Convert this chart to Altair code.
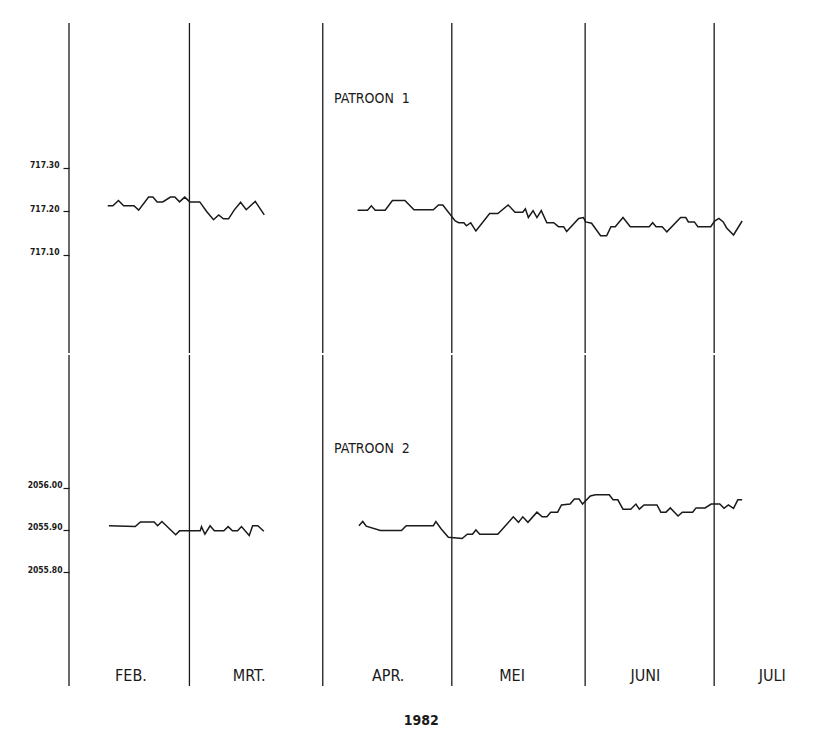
import altair as alt
import pandas as pd

# ---- data (day = days after 1 Feb 1982) ----
p1a_day = [9.0, 10.2, 11.5, 12.7, 15.1, 16.2, 18.5, 19.5, 20.5, 21.8, 23.6, 24.6, 25.7, 26.9,
           28.1, 30.4, 32.0, 33.6, 34.8, 35.9, 37.1, 38.4, 39.9, 41.2, 43.3, 45.4]
p1a_val = [717.212, 717.212, 717.224, 717.212, 717.212, 717.202, 717.232, 717.232, 717.221,
           717.221, 717.232, 717.232, 717.221, 717.232, 717.221, 717.221, 717.199, 717.180,
           717.191, 717.182, 717.182, 717.202, 717.220, 717.203, 717.222, 717.191]

p1b_day = [67.1, 69.4, 70.3, 71.2, 73.5, 75.2, 78.1, 80.2, 84.7, 85.9, 86.9, 89.8, 90.6, 91.8,
           92.4, 93.4, 94.6, 97.8, 99.7, 102.1, 103.7, 105.5, 106.1, 106.8, 107.9, 108.8, 109.8,
           111.1, 112.7, 113.8, 115.0, 115.7, 118.5, 119.6, 120.1, 121.5, 123.6, 125.0, 126.0,
           127.0, 128.8, 130.5, 134.9, 135.7, 136.5, 137.9, 139.0, 142.2, 143.4, 144.0, 145.4,
           146.2, 149.2, 150.1, 151.1, 152.1, 152.9, 154.5, 156.5]
p1b_val = [717.202, 717.202, 717.212, 717.202, 717.202, 717.224, 717.224, 717.203, 717.203,
           717.214, 717.214, 717.177, 717.173, 717.173, 717.166, 717.173, 717.154, 717.194,
           717.194, 717.214, 717.197, 717.197, 717.205, 717.185, 717.201, 717.185, 717.201,
           717.173, 717.173, 717.164, 717.164, 717.153, 717.183, 717.185, 717.175, 717.172,
           717.143, 717.143, 717.164, 717.164, 717.185, 717.164, 717.164, 717.173, 717.164,
           717.164, 717.152, 717.185, 717.185, 717.175, 717.175, 717.164, 717.164, 717.177,
           717.183, 717.175, 717.161, 717.145, 717.177]

p2a_day = [9.3, 15.4, 16.6, 19.8, 20.6, 21.6, 24.8, 25.7, 28.7, 30.5, 30.8, 31.6, 32.8, 33.8,
           36.0, 37.0, 38.0, 39.2, 40.1, 41.9, 42.7, 43.9, 45.3]
p2a_val = [2055.910, 2055.908, 2055.919, 2055.919, 2055.910, 2055.920, 2055.889, 2055.898,
           2055.898, 2055.898, 2055.908, 2055.890, 2055.910, 2055.898, 2055.898, 2055.908,
           2055.898, 2055.898, 2055.908, 2055.887, 2055.910, 2055.910, 2055.897]

p2b_day = [67.4, 68.3, 69.1, 72.4, 77.3, 78.4, 84.7, 85.3, 86.5, 88.2, 91.4, 92.6, 93.8, 94.6,
           95.5, 99.7, 103.3, 104.5, 105.5, 106.7, 108.8, 110.0, 111.1, 112.0, 113.6, 114.5,
           116.5, 117.5, 118.6, 119.4, 121.2, 122.4, 125.6, 126.5, 127.6, 128.8, 130.6, 131.8,
           132.6, 133.7, 136.7, 137.6, 138.8, 139.8, 141.6, 142.6, 145.0, 145.8, 147.9, 149.3,
           151.3, 152.3, 153.3, 154.5, 155.5, 156.5]
p2b_val = [2055.910, 2055.920, 2055.909, 2055.899, 2055.899, 2055.910, 2055.910, 2055.920,
           2055.903, 2055.883, 2055.880, 2055.890, 2055.890, 2055.900, 2055.890, 2055.890,
           2055.931, 2055.918, 2055.931, 2055.918, 2055.942, 2055.931, 2055.931, 2055.942,
           2055.942, 2055.959, 2055.961, 2055.973, 2055.973, 2055.961, 2055.980, 2055.983,
           2055.983, 2055.971, 2055.971, 2055.949, 2055.949, 2055.961, 2055.949, 2055.959,
           2055.959, 2055.942, 2055.942, 2055.952, 2055.933, 2055.942, 2055.942, 2055.952,
           2055.952, 2055.961, 2055.961, 2055.951, 2055.959, 2055.951, 2055.971, 2055.971]

month_start_day = [0, 28, 59, 89, 120, 150]
month_labels = ["FEB.", "MRT.", "APR.", "MEI", "JUNI", "JULI"]
month_label_day = [14.4, 41.9, 74.2, 103.0, 134.0, 163.5]
year_label = "1982"
year_day = 81.9

ticks_p1 = [717.10, 717.20, 717.30]
ticks_p2 = [2055.80, 2055.90, 2056.00]
title_p1 = "PATROON\u00a0\u00a01"
title_p2 = "PATROON\u00a0\u00a02"
title_day = 61.6
title_p1_val = 717.4575
title_p2_val = 2056.0906

# ---- layout ----
X_DOMAIN = [0, 176]
W = 757
H1, H2 = 330, 331
Y1 = [716.8736, 717.6322]
Y2 = [2055.5329, 2056.3118]
FONT = "DejaVu Sans Condensed"
NARROW = "Liberation Sans Narrow, DejaVu Sans Condensed"
INK = "#1a1a1a"

xs = alt.Scale(domain=X_DOMAIN, nice=False, zero=False)

def seg_df(parts):
    rows = []
    for name, days, vals in parts:
        for d, v in zip(days, vals):
            rows.append({"seg": name, "day": d, "value": v})
    return pd.DataFrame(rows)

p1_df = seg_df([("a", p1a_day, p1a_val), ("b", p1b_day, p1b_val)])
p2_df = seg_df([("a", p2a_day, p2a_val), ("b", p2b_day, p2b_val)])
rules_df = pd.DataFrame({"day": month_start_day})
months_df = pd.DataFrame({"day": month_label_day, "label": month_labels})
year_df = pd.DataFrame({"day": [year_day], "label": [year_label]})


def yaxis(vals, pad):
    return alt.Axis(values=vals, format=".2f", domain=False, grid=False, ticks=True,
                    tickSize=6, tickColor=INK, tickWidth=1.2, labelFont=NARROW,
                    labelFontSize=8.5, labelFontWeight="bold", labelColor=INK,
                    labelBaseline="alphabetic", labelPadding=pad, title=None)


def panel(df, ydom, ticks, pad, title, title_val, h):
    ysc = alt.Scale(domain=ydom, nice=False, zero=False)
    ydef = alt.Y("value:Q", scale=ysc, axis=yaxis(ticks, pad))
    rules = alt.Chart(rules_df).mark_rule(color=INK, strokeWidth=1.3).encode(
        x=alt.X("day:Q", scale=xs, axis=None))
    line = alt.Chart(df).mark_line(color=INK, strokeWidth=1.5).encode(
        x=alt.X("day:Q", scale=xs, axis=None), y=ydef, detail="seg:N")
    tdf = pd.DataFrame({"day": [title_day], "value": [title_val], "label": [title]})
    txt = alt.Chart(tdf).mark_text(align="left", baseline="middle", font=NARROW,
                                   fontSize=14, color=INK).encode(
        x=alt.X("day:Q", scale=xs, axis=None), y=ydef, text="label:N")
    return alt.layer(rules, line, txt).properties(width=W, height=h)


top = panel(p1_df, Y1, ticks_p1, 4, title_p1, title_p1_val, H1)
bottom = panel(p2_df, Y2, ticks_p2, 1, title_p2, title_p2_val, H2)

months = alt.Chart(months_df).mark_text(baseline="alphabetic", font=FONT, fontSize=16,
                                        color=INK).encode(
    x=alt.X("day:Q", scale=xs, axis=None), y=alt.value(H2 - 5), text="label:N")
year = alt.Chart(year_df).mark_text(baseline="alphabetic", font=FONT, fontSize=14,
                                    fontWeight="bold", color=INK).encode(
    x=alt.X("day:Q", scale=xs, axis=None), y=alt.value(H2 + 39), text="label:N")
bottom = alt.layer(bottom, months, year).properties(width=W, height=H2)

chart = alt.vconcat(top, bottom, spacing=0).configure_view(strokeWidth=0).properties(
    padding={"left": 19, "top": 14, "right": 2, "bottom": 0}, background="white")

chart.save("out.html", embed_options={"renderer": "svg", "actions": False})
